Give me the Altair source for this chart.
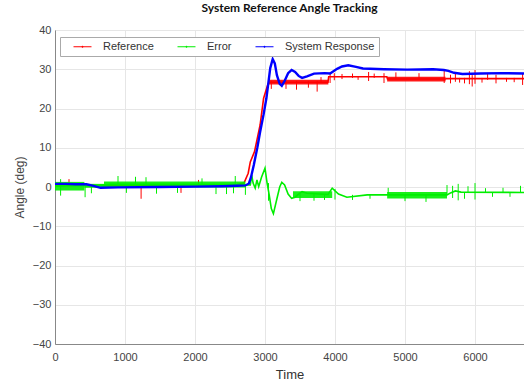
import altair as alt
import pandas as pd

# ---- Reference angle (deg) vs time
ref_t = [0, 300, 700, 1500, 2600, 2700, 2760, 2790, 2850, 2930, 2980, 3040, 3060,
         3900, 3910, 4740, 4750, 5580, 5590, 6700]
ref_v = [0.5, 0.6, 0.3, 0.5, 0.6, 1.0, 3.5, 6.4, 9.0, 15.8, 22.6, 26.1, 26.7,
         26.7, 28.1, 28.1, 27.5, 27.5, 27.6, 27.6]

# ---- System response (deg) vs time
resp_t = [0, 150, 300, 450, 550, 650, 900, 1500, 2000, 2400, 2600, 2720, 2770, 2800,
          2840, 2890, 2930, 2980, 3020, 3075, 3110, 3140, 3170, 3210, 3240, 3280, 3330,
          3380, 3430, 3480, 3530, 3600, 3700, 3850, 3930, 4030, 4100, 4190, 4300, 4400,
          4700, 5030, 5400, 5555, 5620, 5700, 5820, 6080, 6400, 6700]
resp_v = [0.8, 0.8, 0.7, 0.7, 0.3, -0.2, -0.1, 0.0, 0.1, 0.2, 0.3, 0.4, 0.9, 2.5,
          5.6, 10.0, 14.0, 18.5, 22.6, 30.3, 32.6, 31.5, 28.5, 26.3, 25.8, 27.0, 29.0,
          29.8, 29.3, 28.3, 27.8, 28.2, 28.9, 29.0, 28.9, 30.1, 30.7, 31.0, 30.6, 30.2,
          30.0, 29.9, 30.0, 29.8, 29.6, 29.1, 28.8, 28.9, 29.0, 28.9]

# ---- Tracking error (deg) vs time
err_t = [0, 200, 600, 800, 1500, 2500, 2700, 2790, 2810, 2830, 2860, 2885, 2910, 2950,
         3000, 3030, 3060, 3090, 3120, 3170, 3210, 3240, 3280, 3330, 3380, 3430, 3480,
         3530, 3600, 3900, 3960, 4050, 4170, 4460, 4740, 5600, 5650, 5720, 5800, 6700]
err_v = [0.2, 0.3, 0.4, 0.7, 0.7, 0.6, 0.5, 0.5, 3.0, 1.0, -0.3, 1.8, 0.1, 2.5,
         4.8, 1.0, -2.0, -5.5, -6.8, -3.0, 0.0, 1.2, 0.5, -1.8, -2.9, -2.6, -1.8,
         -1.2, -1.6, -1.9, -0.3, -1.8, -2.6, -2.0, -2.0, -2.0, -1.5, -1.0, -1.3, -1.4]

# ---- Dense jitter bands: start, end, low, high
ref_band_t0 = [3050, 4745]
ref_band_t1 = [3905, 5580]
ref_band_lo = [26.1, 26.9]
ref_band_hi = [27.3, 28.1]

err_band_t0 = [0, 420, 700, 3400, 4745]
err_band_t1 = [420, 700, 2720, 3960, 5600]
err_band_lo = [-0.9, -0.2, -0.1, -2.8, -2.9]
err_band_hi = [1.3, 0.8, 1.4, -1.1, -1.3]

# ---- Isolated noise spikes: time, low, high
ref_spk_t = [200, 1230, 1800, 2050, 3090, 3300, 3450, 3620, 3745, 3800, 3930, 3990, 4100,
             4250, 4330, 4480, 4560, 4700, 4870, 5200, 5560, 5650, 5720, 5780, 5850, 5920,
             5960, 6000, 6100, 6180, 6300, 6450, 6560, 6680]
ref_spk_lo = [0.2, -3.0, -1.5, 0.2, 25.0, 25.0, 24.8, 25.3, 24.3, 26.5, 26.5, 27.2, 27.5,
              27.8, 27.3, 27.0, 27.8, 26.5, 27.8, 27.8, 26.5, 26.4, 26.8, 26.6, 26.4, 26.2,
              25.6, 26.3, 26.6, 27.3, 26.4, 26.8, 26.7, 26.0]
ref_spk_hi = [2.0, 0.5, 0.5, 1.8, 27.0, 27.0, 27.0, 27.0, 27.0, 28.0, 29.2, 29.0, 28.8,
              28.9, 28.2, 29.3, 28.9, 29.0, 29.2, 29.0, 30.0, 28.6, 28.8, 27.8, 27.8, 29.5,
              28.5, 29.8, 27.8, 28.8, 28.6, 27.8, 27.8, 29.0]

err_spk_t = [80, 430, 520, 900, 1020, 1150, 1300, 1450, 1750, 2100, 2300, 2450, 2550,
             2575, 2720, 3050, 3500, 3700, 3850, 4000, 4250, 4500, 4760, 5000, 5300, 5600,
             5680, 5760, 5850, 5900, 6000, 6150, 6250, 6400, 6500, 6650]
err_spk_lo = [-2.2, -2.6, -1.6, 0.5, -1.5, 0.5, 0.5, -1.7, -1.5, 0.5, -1.8, -1.8, -1.6,
              0.5, -2.0, -3.5, -3.6, -3.5, -3.3, -3.2, -3.3, -3.0, -2.0, -3.6, -3.8, -2.0,
              -2.8, -3.4, -3.0, -1.4, -3.2, -1.4, -2.5, -1.4, -2.5, -1.4]
err_spk_hi = [2.0, 0.4, 0.4, 2.8, 0.6, 2.6, 2.5, 0.6, 0.6, 2.2, 0.6, 0.6, 0.6,
              2.8, 0.5, 1.0, -1.8, -1.8, -1.8, -0.5, -2.0, -2.0, -0.2, -2.0, -2.0, 0.5,
              0.3, 0.8, -1.3, 0.2, 1.0, -0.3, -1.4, -0.2, -1.4, 0.3]

SERIES = ["Reference", "Error", "System Response"]
COLORS = ["#ff0000", "#00ee00", "#0000ff"]

ref_df = pd.DataFrame({"t": ref_t, "v": ref_v, "series": "Reference"})
err_df = pd.DataFrame({"t": err_t, "v": err_v, "series": "Error"})
resp_df = pd.DataFrame({"t": resp_t, "v": resp_v, "series": "System Response"})
ref_band = pd.DataFrame({"t0": ref_band_t0, "t1": ref_band_t1, "lo": ref_band_lo, "hi": ref_band_hi})
err_band = pd.DataFrame({"t0": err_band_t0, "t1": err_band_t1, "lo": err_band_lo, "hi": err_band_hi})
ref_spk = pd.DataFrame({"t": ref_spk_t, "lo": ref_spk_lo, "hi": ref_spk_hi})
err_spk = pd.DataFrame({"t": err_spk_t, "lo": err_spk_lo, "hi": err_spk_hi})

xscale = alt.Scale(domain=[0, 6700], nice=False, zero=False)
yscale = alt.Scale(domain=[-40, 40], nice=False)
cscale = alt.Scale(domain=SERIES, range=COLORS)

x_axis = alt.Axis(title="Time", values=list(range(0, 7000, 1000)), format="d",
                  labelFontSize=11, titleFontSize=13, labelColor="#444", titleColor="#333",
                  titlePadding=6, labelPadding=7, ticks=False, domainColor="#888",
                  gridColor="#e6e6e6", labelFlush=False, labelOverlap=False)
y_axis = alt.Axis(title="Angle (deg)", values=list(range(-40, 50, 10)),
                  labelFontSize=11, titleFontSize=12, labelColor="#444", titleColor="#444",
                  titlePadding=6, labelPadding=4, ticks=False, domainColor="#888",
                  gridColor="#e6e6e6", labelOverlap=False, labelFlush=False)

legend = alt.Legend(
    orient="none", legendX=5, legendY=7, direction="horizontal", title=None,
    symbolType="M-3,0L3,0M-0.15,-0.15L0.15,-0.15L0.15,0.15L-0.15,0.15Z",
    symbolSize=36, symbolStrokeWidth=1, labelFontSize=11, labelColor="#333",
    labelFont="Liberation Sans", strokeColor="#aaa", fillColor="white",
    padding=4, columnPadding=14, labelOffset=15, symbolOffset=13,
)


def line_layer(df, width):
    return alt.Chart(df).mark_line(strokeWidth=width, clip=True).encode(
        x=alt.X("t:Q", scale=xscale, axis=x_axis),
        y=alt.Y("v:Q", scale=yscale, axis=y_axis),
        color=alt.Color("series:N", scale=cscale, legend=legend),
    )


def band_layer(df, color):
    return alt.Chart(df).mark_rect(color=color, opacity=0.9, clip=True).encode(
        x=alt.X("t0:Q", scale=xscale, axis=x_axis), x2="t1:Q",
        y=alt.Y("lo:Q", scale=yscale, axis=y_axis), y2="hi:Q",
    )


def spike_layer(df, color):
    return alt.Chart(df).mark_rule(color=color, strokeWidth=1, clip=True).encode(
        x=alt.X("t:Q", scale=xscale, axis=x_axis),
        y=alt.Y("lo:Q", scale=yscale, axis=y_axis), y2="hi:Q",
    )


chart = alt.layer(
    band_layer(ref_band, "#ff0000"),
    spike_layer(ref_spk, "#ff0000"),
    line_layer(ref_df, 1.6),
    band_layer(err_band, "#00ee00"),
    spike_layer(err_spk, "#00ee00"),
    line_layer(err_df, 1.6),
    line_layer(resp_df, 2.4),
).properties(
    width=469, height=314,
    title=alt.TitleParams("System Reference Angle Tracking", font="Lato", fontSize=12,
                          fontWeight="bold", color="#111", anchor="middle", offset=9),
    autosize=alt.AutoSizeParams(type="none"),
    padding={"left": 55, "top": 30, "right": 0, "bottom": 45},
).configure_view(
    stroke="#999", strokeWidth=1
).configure_axis(
    labelFont="Liberation Sans", titleFont="Liberation Sans", titleFontWeight="normal"
)

chart.save("out.html", embed_options={"renderer": "svg", "actions": False})
